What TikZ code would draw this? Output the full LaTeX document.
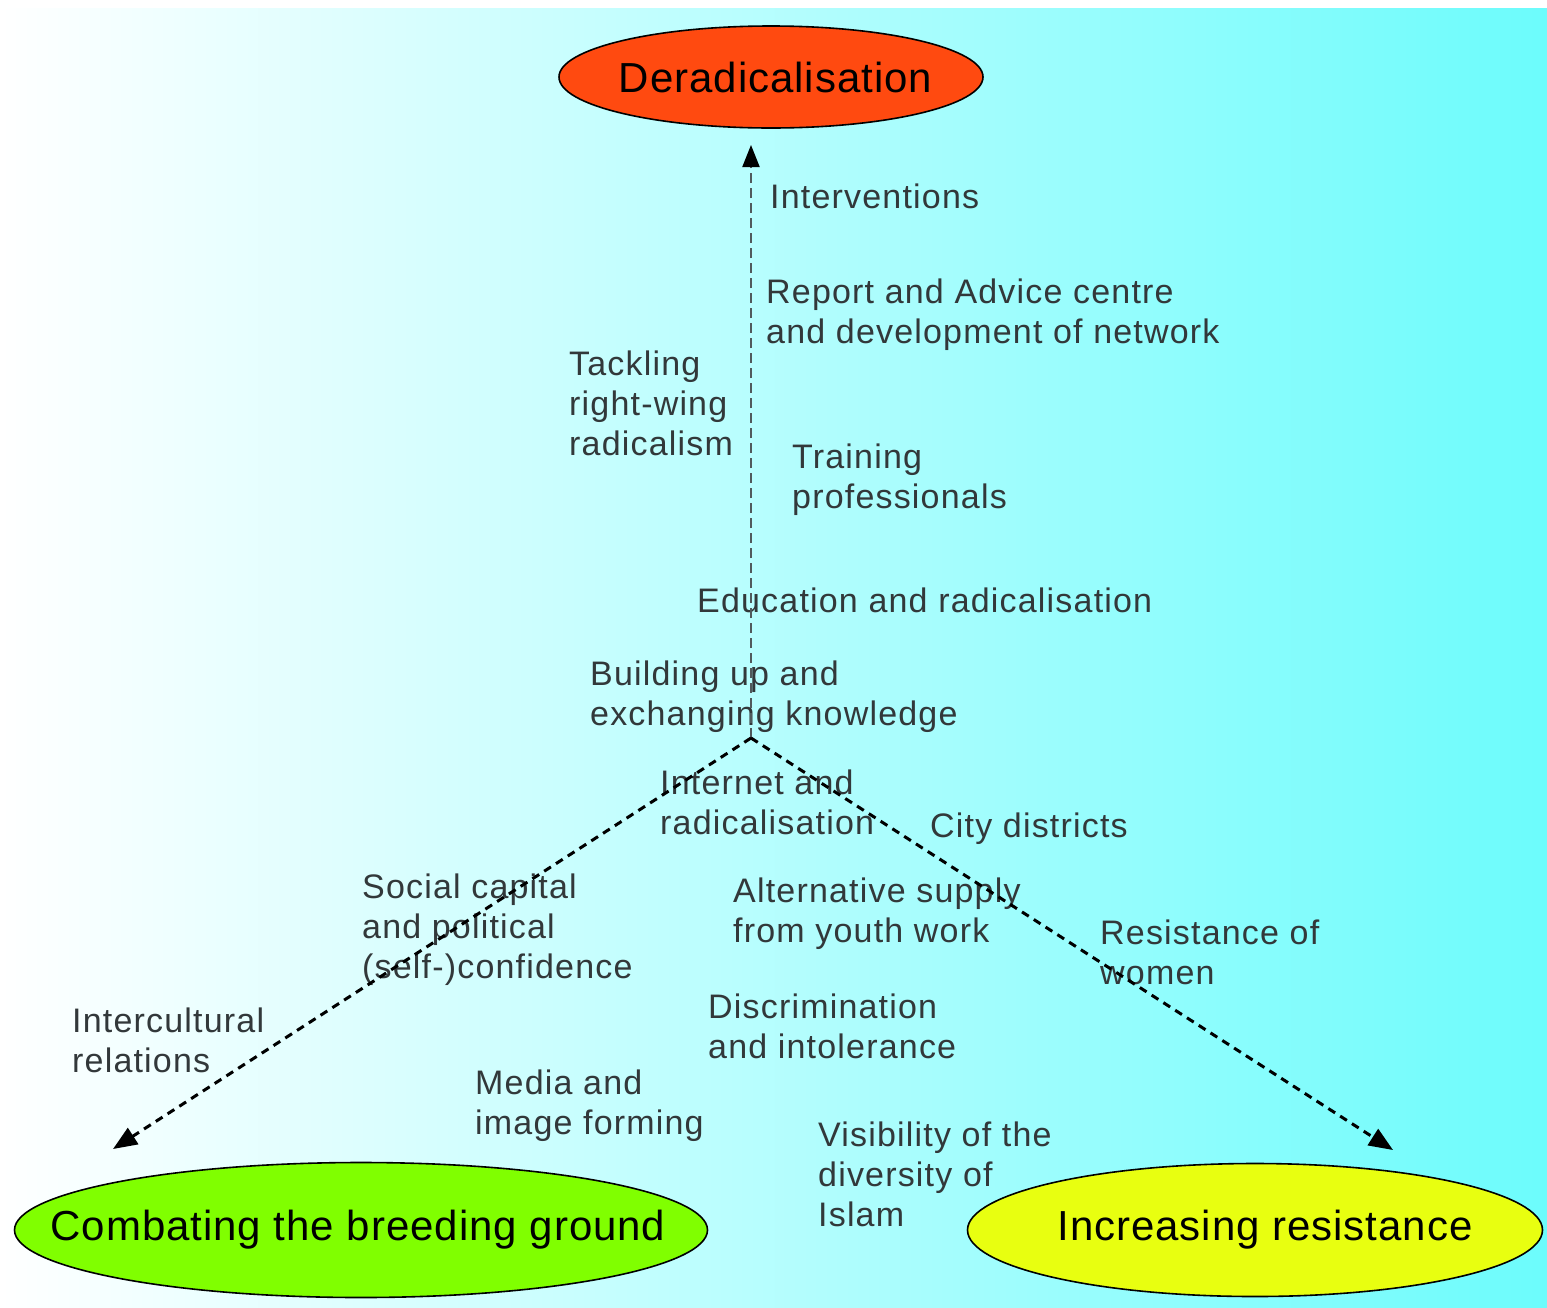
\documentclass[tikz,border=0pt]{standalone}
\usepackage{fontspec}
\setmainfont{Liberation Sans}
\newfontfamily\lblfont[LetterSpace=3.5]{Liberation Sans}
\newfontfamily\goalfont[LetterSpace=2.3]{Liberation Sans}
\usetikzlibrary{shapes.geometric,arrows.meta}
\definecolor{bgcyan}{RGB}{108,252,252}
\definecolor{derfill}{RGB}{255,74,16}
\definecolor{combfill}{RGB}{128,255,0}
\definecolor{incfill}{RGB}{232,255,16}
\definecolor{labelgray}{RGB}{50,56,58}
\definecolor{vlinegray}{RGB}{80,90,92}
\newcommand{\goaltext}[1]{\makebox[0pt][c]{#1}}
\tikzset{
  goal/.style={ellipse, draw=black, line width=1.6pt, inner sep=0pt,
    font=\goalfont\fontsize{42}{48}\selectfont, text=black},
  lbl/.style={anchor=north west, inner sep=0pt, align=left,
    font=\lblfont\fontsize{34}{40}\selectfont, text=labelgray},
  vconn/.style={draw=vlinegray, line width=2pt, dash pattern=on 10pt off 5pt,
    -{Triangle[length=22pt,width=17pt,color=black]}},
  dconn/.style={draw=black, line width=3pt, dash pattern=on 8pt off 6pt,
    -{Triangle[length=24pt,width=19pt]}}
}
\begin{document}
\begin{tikzpicture}[x=1pt,y=-1pt]
\useasboundingbox (0,0) rectangle (1547,1307);
\fill[white] (0,0) rectangle (1547,1307);
\shade[left color=white, right color=bgcyan] (0,8) rectangle (1547,1307);

% labels
\node[lbl] (interv) at (770,184) {Interventions};
\node[lbl] (report) at (766,279) {Report and Advice centre\\and development of network};
\node[lbl] (tackle) at (569,351) {Tackling\\right-wing\\radicalism};
\node[lbl] (train) at (792,444) {Training\\professionals};
\node[lbl] (educ) at (697,588) {Education and radicalisation};
\node[lbl] (build) at (590,661) {Building up and\\exchanging knowledge};
\node[lbl] (internet) at (660,770) {Internet and\\radicalisation};
\node[lbl] (city) at (930,813) {City districts};
\node[lbl] (social) at (362,874) {Social capital\\and political\\(self-)confidence};
\node[lbl] (altsup) at (733,878) {Alternative supply\\from youth work};
\node[lbl] (women) at (1100,920) {Resistance of\\women};
\node[lbl] (intercult) at (72,1008) {Intercultural\\relations};
\node[lbl] (discr) at (708,994) {Discrimination\\and intolerance};
\node[lbl] (media) at (475,1070) {Media and\\image forming};
\node[lbl] (visib) at (818,1122) {Visibility of the\\diversity of\\Islam};

% goals
\node[goal, fill=derfill, minimum width=424pt, minimum height=102pt] (der) at (771,77) {\goaltext{\hspace*{9pt}Deradicalisation}};
\node[goal, fill=combfill, minimum width=693pt, minimum height=135pt] (comb) at (361,1230) {\goaltext{\hspace*{-6pt}\raisebox{-3pt}{Combating the breeding ground}}};
\node[goal, fill=incfill, minimum width=575pt, minimum height=133pt] (inc) at (1255,1230) {\goaltext{\hspace*{20pt}\raisebox{-7pt}{Increasing resistance}}};

% connectors
\coordinate (apex) at (751,738);
\coordinate (tipTop) at (751,145);
\coordinate (tipL) at (113,1149);
\coordinate (tipR) at (1393,1150);
\draw[vconn] (apex) -- (tipTop);
\draw[dconn] (apex) -- (tipL);
\draw[dconn] (apex) -- (tipR);
\end{tikzpicture}
\end{document}
